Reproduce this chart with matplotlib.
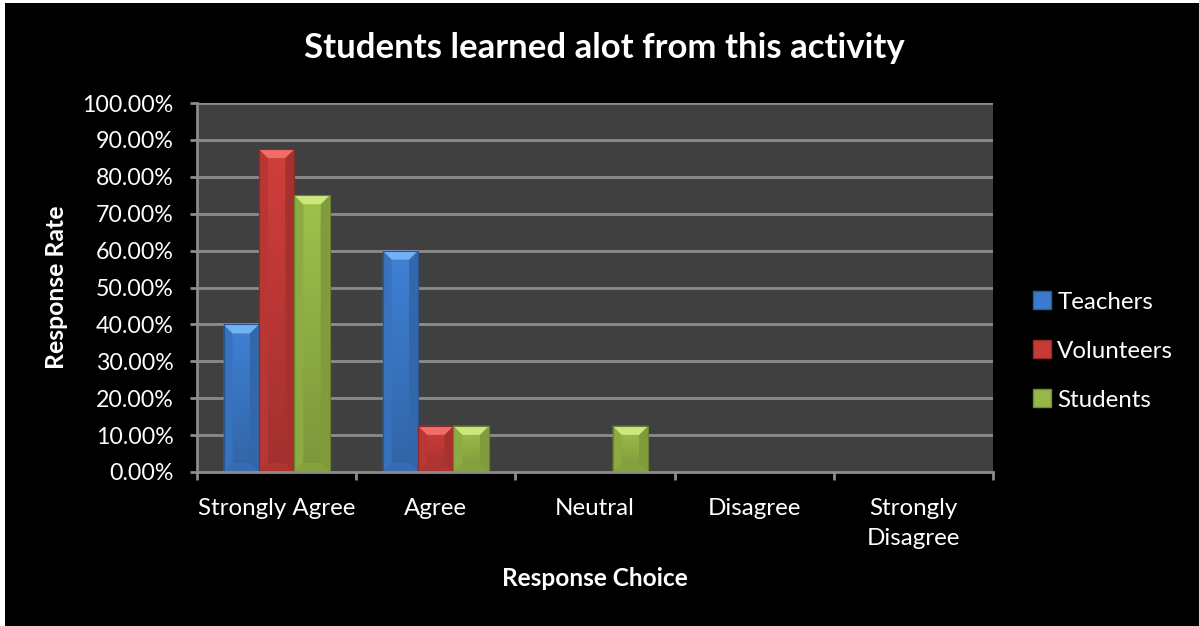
import numpy as np
import matplotlib
matplotlib.use("Agg")
import matplotlib.pyplot as plt
from matplotlib.patches import Rectangle, Polygon, Patch
from matplotlib.colors import to_rgb

# ---- data ----
categories = ["Strongly Agree", "Agree", "Neutral", "Disagree", "Strongly\nDisagree"]
series_names = ["Teachers", "Volunteers", "Students"]
teachers = [0.40, 0.60, 0.0, 0.0, 0.0]
volunteers = [0.875, 0.125, 0.0, 0.0, 0.0]
students = [0.75, 0.125, 0.125, 0.0, 0.0]
y_ticks = [0.0, 0.1, 0.2, 0.3, 0.4, 0.5, 0.6, 0.7, 0.8, 0.9, 1.0]
title = "Students learned alot from this activity"
x_title = "Response Choice"
y_title = "Response Rate"

series_values = [teachers, volunteers, students]
base_colors = ["#3c7bcb", "#c63b38", "#97b848"]
top_colors = ["#72b2f4", "#f06d69", "#cde77e"]

FONT = "Lato"
W, H = 1199, 626
fig = plt.figure(figsize=(W / 100, H / 100), dpi=100, facecolor="white")
# black chart area inside a thin white margin
fig.patches.append(Rectangle((5 / W, 0), 1 - 5 / W, 1 - 3 / H, transform=fig.transFigure,
                             facecolor="black", edgecolor="none", zorder=-10))

ax = fig.add_axes([197 / W, 1 - 472 / H, 796 / W, 369 / H])
ax.set_facecolor("#404040")
ax.set_xlim(0, len(categories))
ax.set_ylim(0, 1.0)

grid_col = "#8c8c8c"
for t in y_ticks[1:]:
    ax.axhline(t, color=grid_col, lw=2, zorder=1)

n = len(series_names)
bw = 1 / (n + 1.5)
centers = np.arange(len(categories)) + 0.5

# bevel size in data units (about 9 px)
dx = 9 / (796 / len(categories))
dy = 9 / 369


def shade(c, f):
    r, g, b = to_rgb(c)
    return (r * f, g * f, b * f)


for si, (vals, bc, tc) in enumerate(zip(series_values, base_colors, top_colors)):
    xs = centers + (si - (n - 1) / 2) * bw
    bars = ax.bar(xs, vals, width=bw, color=bc, edgecolor="none", zorder=2)
    for rect, h in zip(bars, vals):
        if h <= 0:
            continue
        x0 = rect.get_x()
        x1 = x0 + rect.get_width()
        # vertical gradient: lighter at top, darker at bottom
        grad = np.linspace(0.82, 1.05, 64).reshape(-1, 1, 1)
        rgb = np.clip(np.array(to_rgb(bc)).reshape(1, 1, 3) * grad, 0, 1)
        im = ax.imshow(rgb, extent=(x0, x1, 0, h), origin="lower", aspect="auto",
                       zorder=2.1, interpolation="bilinear")
        im.set_clip_path(rect)
        ddy = min(dy, h / 2)
        # side and bottom bevels
        ax.add_patch(Polygon([(x0, h), (x0 + dx, h - ddy), (x0 + dx, ddy), (x0, 0)],
                             closed=True, facecolor=shade(bc, 0.93), edgecolor="none", zorder=2.2))
        ax.add_patch(Polygon([(x1, h), (x1 - dx, h - ddy), (x1 - dx, ddy), (x1, 0)],
                             closed=True, facecolor=shade(bc, 0.84), edgecolor="none", zorder=2.2))
        ax.add_patch(Polygon([(x0, 0), (x0 + dx, ddy), (x1 - dx, ddy), (x1, 0)],
                             closed=True, facecolor=shade(bc, 0.88), edgecolor="none", zorder=2.2))
        # bright top bevel
        ax.add_patch(Polygon([(x0, h), (x1, h), (x1 - dx, h - ddy), (x0 + dx, h - ddy)],
                             closed=True, facecolor=tc, edgecolor="none", zorder=2.3))
        ax.add_patch(Rectangle((x0, 0), x1 - x0, h, facecolor="none",
                               edgecolor=shade(bc, 0.7), lw=0.8, zorder=2.4))

# axes styling
for s in ["top", "right"]:
    ax.spines[s].set_visible(False)
for s in ["left", "bottom"]:
    ax.spines[s].set_color(grid_col)
    ax.spines[s].set_linewidth(2)
    ax.spines[s].set_zorder(3)

ax.set_yticks(y_ticks)
ax.set_yticklabels([f"{v * 100:.2f}%" for v in y_ticks], fontsize=16.7,
                   color="white", fontfamily=FONT)
ax.tick_params(axis="y", length=5, width=2, color=grid_col, pad=12)

ax.set_xticks(centers)
ax.set_xticklabels(categories, fontsize=17.4, color="white", fontfamily=FONT,
                   linespacing=1.5, va="top")
ax.tick_params(axis="x", which="major", length=0, pad=19)
ax.set_xticks(np.arange(len(categories) + 1), minor=True)
ax.tick_params(axis="x", which="minor", length=6, width=2, color=grid_col)

fig.text(604 / W, 1 - 48 / H, title, ha="center", va="center", color="white",
         fontsize=25, fontweight="bold", fontfamily=FONT)
fig.text(595 / W, 1 - 579 / H, x_title, ha="center", va="center", color="white",
         fontsize=17.6, fontweight="bold", fontfamily=FONT)
fig.text(57 / W, 1 - 287 / H, y_title, ha="center", va="center", color="white",
         fontsize=17.8, fontweight="bold", fontfamily=FONT, rotation=90)

handles = [Patch(facecolor=c, edgecolor=shade(c, 0.75), label=nm)
           for c, nm in zip(base_colors, series_names)]
leg = fig.legend(handles=handles, loc="center left", bbox_to_anchor=(1033 / W, 1 - 351 / H),
                 frameon=False, labelspacing=1.15, handlelength=0.75, handleheight=0.75,
                 handletextpad=0.25, borderpad=0, borderaxespad=0,
                 prop={"family": FONT, "size": 17.4})
for t in leg.get_texts():
    t.set_color("white")

fig.savefig("out.png", dpi=100, facecolor=fig.get_facecolor())
